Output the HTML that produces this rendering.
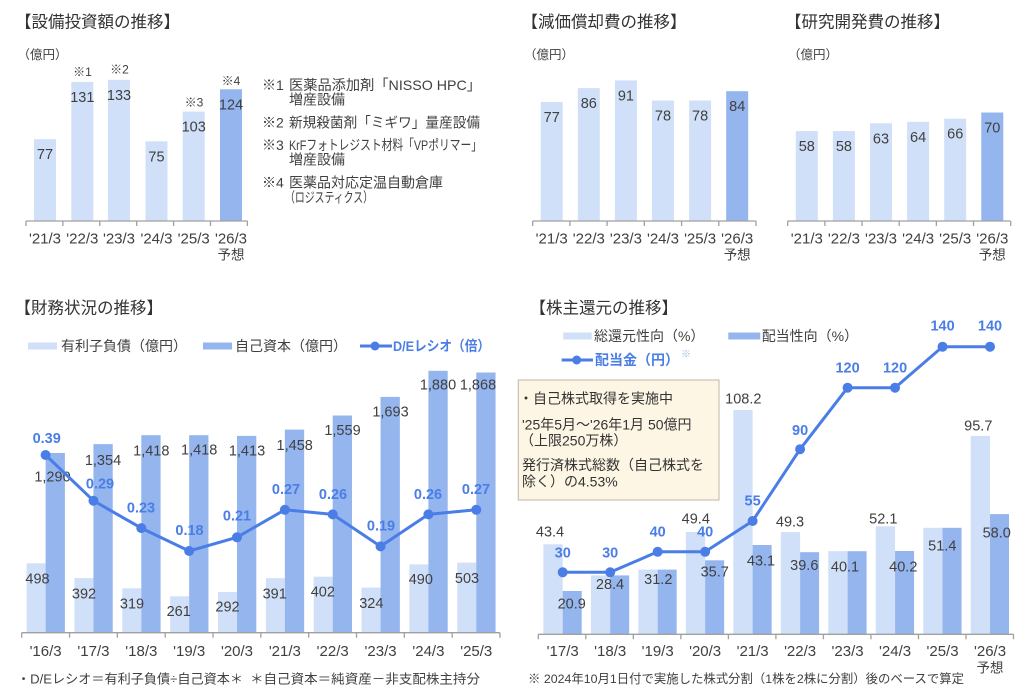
<!DOCTYPE html>
<html><head><meta charset="utf-8">
<style>
html,body{margin:0;padding:0;background:#fff;}
svg{display:block;}
text{font-family:"Liberation Sans","Noto Sans CJK JP",sans-serif;fill:#404040;dominant-baseline:central;}
.t{font-size:16.5px;fill:#333;}
.u{font-size:12.5px;}
.v{font-size:14.5px;text-anchor:middle;}
.x{font-size:15px;text-anchor:middle;}
.y{font-size:13.5px;text-anchor:middle;}
.n{font-size:14px;}
.b{font-size:14.5px;font-weight:bold;fill:#4a7ee6;text-anchor:middle;}
.lg{font-size:14px;}
.L{fill:#d0e0f8;}
.D{fill:#95b5ef;}
.ax{stroke:#a0a0a0;stroke-width:1.3;fill:none;}
</style></head>
<body>
<svg width="1024" height="689" viewBox="0 0 1024 689" xmlns="http://www.w3.org/2000/svg">
<rect width="1024" height="689" fill="#fff"/>

<!-- ===== Top-left: 設備投資額 ===== -->
<text class="t" x="15" y="22.7">【設備投資額の推移】</text>
<text class="u" x="17.5" y="55">（億円）</text>
<rect class="L" x="34" y="139.2" width="22" height="81.8"/>
<rect class="L" x="71.3" y="81.9" width="22" height="139.1"/>
<rect class="L" x="108" y="79.8" width="22" height="141.2"/>
<rect class="L" x="145.5" y="141.3" width="22" height="79.7"/>
<rect class="L" x="182.7" y="111.6" width="22" height="109.4"/>
<rect class="D" x="220" y="89.3" width="22" height="131.7"/>
<text class="v" x="45" y="155.2">77</text>
<text class="v" x="82.3" y="97.9">131</text>
<text class="v" x="119" y="95.8">133</text>
<text class="v" x="156.5" y="157.3">75</text>
<text class="v" x="193.7" y="127.6">103</text>
<text class="v" x="231" y="105.3">124</text>
<text class="v" style="font-size:12px" x="82.5" y="72">※1</text>
<text class="v" style="font-size:12px" x="119.5" y="69.3">※2</text>
<text class="v" style="font-size:12px" x="194" y="102.7">※3</text>
<text class="v" style="font-size:12px" x="231" y="81">※4</text>
<path class="ax" d="M26 221H247.4M26 221v5M62.9 221v5M99.8 221v5M136.7 221v5M173.6 221v5M210.5 221v5M247.4 221v5"/>
<text class="x" x="45" y="239">'21/3</text>
<text class="x" x="82.3" y="239">'22/3</text>
<text class="x" x="119" y="239">'23/3</text>
<text class="x" x="156.5" y="239">'24/3</text>
<text class="x" x="193.7" y="239">'25/3</text>
<text class="x" x="231" y="239">'26/3</text>
<text class="y" x="231" y="255">予想</text>

<!-- footnotes -->
<text class="n" x="262" y="85">※1</text>
<text class="n" x="289" y="85" textLength="192" lengthAdjust="spacingAndGlyphs">医薬品添加剤「NISSO HPC」</text>
<text class="n" x="289" y="99.3">増産設備</text>
<text class="n" x="262" y="122.7">※2</text>
<text class="n" x="289" y="122.7" textLength="191" lengthAdjust="spacingAndGlyphs">新規殺菌剤「ミギワ」量産設備</text>
<text class="n" x="262" y="145">※3</text>
<text class="n" x="289" y="145" textLength="193" lengthAdjust="spacingAndGlyphs">KrFフォトレジスト材料「VPポリマー」</text>
<text class="n" x="289" y="159.3">増産設備</text>
<text class="n" x="262" y="182.7">※4</text>
<text class="n" x="289" y="182.7">医薬品対応定温自動倉庫</text>
<text class="n" x="285" y="197.3" textLength="88" lengthAdjust="spacingAndGlyphs">（ロジスティクス）</text>

<!-- ===== Top-middle: 減価償却費 ===== -->
<text class="t" x="521.5" y="22.7">【減価償却費の推移】</text>
<text class="u" x="524" y="55">（億円）</text>
<rect class="L" x="540.7" y="102" width="22" height="119"/>
<rect class="L" x="577.8" y="88.1" width="22" height="132.9"/>
<rect class="L" x="614.9" y="80.4" width="22" height="140.6"/>
<rect class="L" x="652" y="100.5" width="22" height="120.5"/>
<rect class="L" x="689.1" y="100.5" width="22" height="120.5"/>
<rect class="D" x="726.2" y="91.2" width="22" height="129.8"/>
<text class="v" x="551.7" y="118">77</text>
<text class="v" x="588.8" y="104.1">86</text>
<text class="v" x="625.9" y="96.4">91</text>
<text class="v" x="663" y="116.5">78</text>
<text class="v" x="700.1" y="116.5">78</text>
<text class="v" x="737.2" y="107.2">84</text>
<path class="ax" d="M532.7 221H756M532.7 221v5M569.9 221v5M607.1 221v5M644.3 221v5M681.6 221v5M718.8 221v5M756 221v5"/>
<text class="x" x="551.7" y="239">'21/3</text>
<text class="x" x="588.8" y="239">'22/3</text>
<text class="x" x="625.9" y="239">'23/3</text>
<text class="x" x="663" y="239">'24/3</text>
<text class="x" x="700.1" y="239">'25/3</text>
<text class="x" x="737.2" y="239">'26/3</text>
<text class="y" x="737.2" y="255">予想</text>

<!-- ===== Top-right: 研究開発費 ===== -->
<text class="t" x="785" y="22.7">【研究開発費の推移】</text>
<text class="u" x="788" y="55">（億円）</text>
<rect class="L" x="795.8" y="131.1" width="22" height="89.9"/>
<rect class="L" x="832.9" y="131.1" width="22" height="89.9"/>
<rect class="L" x="870" y="123.3" width="22" height="97.7"/>
<rect class="L" x="907.1" y="121.8" width="22" height="99.2"/>
<rect class="L" x="944.2" y="118.7" width="22" height="102.3"/>
<rect class="D" x="981.3" y="112.5" width="22" height="108.5"/>
<text class="v" x="806.8" y="147.1">58</text>
<text class="v" x="843.9" y="147.1">58</text>
<text class="v" x="881" y="139.3">63</text>
<text class="v" x="918.1" y="137.8">64</text>
<text class="v" x="955.2" y="134.7">66</text>
<text class="v" x="992.3" y="128.5">70</text>
<path class="ax" d="M787.7 221H1010.7M787.7 221v5M824.9 221v5M862 221v5M899.2 221v5M936.4 221v5M973.5 221v5M1010.7 221v5"/>
<text class="x" x="806.8" y="239">'21/3</text>
<text class="x" x="843.9" y="239">'22/3</text>
<text class="x" x="881" y="239">'23/3</text>
<text class="x" x="918.1" y="239">'24/3</text>
<text class="x" x="955.2" y="239">'25/3</text>
<text class="x" x="992.3" y="239">'26/3</text>
<text class="y" x="992.3" y="255">予想</text>

<!-- ===== Bottom-left: 財務状況 ===== -->
<text class="t" x="14.5" y="308.3">【財務状況の推移】</text>
<rect class="L" x="28" y="342.5" width="29" height="7"/>
<text class="lg" x="61" y="346">有利子負債（億円）</text>
<rect class="D" x="203" y="342.5" width="29" height="7"/>
<text class="lg" x="235" y="346">自己資本（億円）</text>
<line x1="360" y1="346" x2="392" y2="346" stroke="#4a7ee6" stroke-width="3"/>
<circle cx="375" cy="346" r="4.5" fill="#4a7ee6"/>
<text class="lg" x="393" y="346" style="font-weight:bold;fill:#4a7ee6" textLength="97" lengthAdjust="spacingAndGlyphs">D/Eレシオ（倍）</text>

<rect class="L" x="26.6" y="563.3" width="19" height="69.4"/>
<rect class="D" x="45.6" y="453" width="19.3" height="179.7"/>
<rect class="L" x="74.45" y="578.1" width="19" height="54.6"/>
<rect class="D" x="93.45" y="444.1" width="19.3" height="188.6"/>
<rect class="L" x="122.3" y="588.3" width="19" height="44.4"/>
<rect class="D" x="141.3" y="435.2" width="19.3" height="197.5"/>
<rect class="L" x="170.15" y="596.3" width="19" height="36.4"/>
<rect class="D" x="189.15" y="435.2" width="19.3" height="197.5"/>
<rect class="L" x="218" y="592" width="19" height="40.7"/>
<rect class="D" x="237" y="435.9" width="19.3" height="196.8"/>
<rect class="L" x="265.85" y="578.2" width="19" height="54.5"/>
<rect class="D" x="284.85" y="429.6" width="19.3" height="203.1"/>
<rect class="L" x="313.7" y="576.7" width="19" height="56"/>
<rect class="D" x="332.7" y="415.5" width="19.3" height="217.2"/>
<rect class="L" x="361.55" y="587.6" width="19" height="45.1"/>
<rect class="D" x="380.55" y="396.9" width="19.3" height="235.8"/>
<rect class="L" x="409.4" y="564.4" width="19" height="68.3"/>
<rect class="D" x="428.4" y="370.8" width="19.3" height="261.9"/>
<rect class="L" x="457.25" y="562.6" width="19" height="70.1"/>
<rect class="D" x="476.25" y="372.5" width="19.3" height="260.2"/>

<text class="v" x="37.5" y="579.3">498</text>
<text class="v" x="84" y="594.3">392</text>
<text class="v" x="132" y="604.3">319</text>
<text class="v" x="178.7" y="612">261</text>
<text class="v" x="227.5" y="607.3">292</text>
<text class="v" x="274.7" y="594.3">391</text>
<text class="v" x="322.8" y="592.3">402</text>
<text class="v" x="371.3" y="604">324</text>
<text class="v" x="420.8" y="580">490</text>
<text class="v" x="467" y="579">503</text>

<text class="v" x="52.5" y="477.7">1,290</text>
<text class="v" x="103" y="461">1,354</text>
<text class="v" x="151.3" y="451.7">1,418</text>
<text class="v" x="199.2" y="450.7">1,418</text>
<text class="v" x="247" y="451.7">1,413</text>
<text class="v" x="294.7" y="446">1,458</text>
<text class="v" x="342.5" y="431">1,559</text>
<text class="v" x="390.5" y="412.7">1,693</text>
<text class="v" x="438" y="385.7">1,880</text>
<text class="v" x="478" y="385.7">1,868</text>

<polyline points="45.6,455 93.45,500.7 141.3,528.1 189.15,551 237,537.3 284.85,509.8 332.7,514.4 380.55,546.4 428.4,514.4 476.25,509.8" fill="none" stroke="#4a7ee6" stroke-width="3" stroke-linejoin="round"/>
<g fill="#4a7ee6">
<circle cx="45.6" cy="455" r="5"/><circle cx="93.45" cy="500.7" r="5"/><circle cx="141.3" cy="528.1" r="5"/><circle cx="189.15" cy="551" r="5"/><circle cx="237" cy="537.3" r="5"/><circle cx="284.85" cy="509.8" r="5"/><circle cx="332.7" cy="514.4" r="5"/><circle cx="380.55" cy="546.4" r="5"/><circle cx="428.4" cy="514.4" r="5"/><circle cx="476.25" cy="509.8" r="5"/>
</g>
<text class="b" x="46.7" y="439">0.39</text>
<text class="b" x="100" y="484.3">0.29</text>
<text class="b" x="141" y="508.3">0.23</text>
<text class="b" x="189.5" y="531">0.18</text>
<text class="b" x="237" y="516.7">0.21</text>
<text class="b" x="286" y="490">0.27</text>
<text class="b" x="333" y="495">0.26</text>
<text class="b" x="381" y="526.7">0.19</text>
<text class="b" x="428" y="495">0.26</text>
<text class="b" x="476" y="490">0.27</text>

<path class="ax" d="M21.7 632.7H500M21.7 632.7v5M69.53 632.7v5M117.36 632.7v5M165.19 632.7v5M213.02 632.7v5M260.85 632.7v5M308.68 632.7v5M356.51 632.7v5M404.34 632.7v5M452.17 632.7v5M500 632.7v5"/>
<text class="x" x="45.6" y="651.7">'16/3</text>
<text class="x" x="93.45" y="651.7">'17/3</text>
<text class="x" x="141.3" y="651.7">'18/3</text>
<text class="x" x="189.15" y="651.7">'19/3</text>
<text class="x" x="237" y="651.7">'20/3</text>
<text class="x" x="284.85" y="651.7">'21/3</text>
<text class="x" x="332.7" y="651.7">'22/3</text>
<text class="x" x="380.55" y="651.7">'23/3</text>
<text class="x" x="428.4" y="651.7">'24/3</text>
<text class="x" x="476.25" y="651.7">'25/3</text>
<text x="17" y="679" style="font-size:13px" textLength="226" lengthAdjust="spacingAndGlyphs">・D/Eレシオ＝有利子負債÷自己資本＊</text>
<text x="250" y="679" style="font-size:13px" textLength="230" lengthAdjust="spacingAndGlyphs">＊自己資本＝純資産－非支配株主持分</text>

<!-- ===== Bottom-right: 株主還元 ===== -->
<text class="t" x="529.5" y="308.3">【株主還元の推移】</text>
<rect class="L" x="563.3" y="332.5" width="28.4" height="7"/>
<text class="lg" x="594" y="336">総還元性向（%）</text>
<rect class="D" x="728.3" y="332.5" width="32" height="7"/>
<text class="lg" x="761.7" y="336">配当性向（%）</text>
<line x1="561.7" y1="360" x2="593" y2="360" stroke="#4a7ee6" stroke-width="3"/>
<circle cx="576.7" cy="360" r="4.5" fill="#4a7ee6"/>
<text class="lg" x="595" y="360" style="font-weight:bold;fill:#4a7ee6">配当金（円）</text>
<text x="681" y="355" style="font-size:10px;fill:#9ab8ef">※</text>

<rect x="518.3" y="380" width="200.7" height="120" fill="#fdf6e4" stroke="#bfb7a8" stroke-width="1"/>
<text class="n" x="519" y="398.3" style="fill:#333">・自己株式取得を実施中</text>
<text class="n" x="522" y="424.3" style="fill:#333">'25年5月～'26年1月 50億円</text>
<text class="n" x="520" y="440.7" style="fill:#333">（上限250万株）</text>
<text class="n" x="522" y="465" style="fill:#333">発行済株式総数（自己株式を</text>
<text class="n" x="522" y="481.7" style="fill:#333">除く）の4.53%</text>

<rect class="L" x="543.4" y="544.3" width="19.3" height="90"/>
<rect class="D" x="562.7" y="591" width="19" height="43.3"/>
<rect class="L" x="590.88" y="575.4" width="19.3" height="58.9"/>
<rect class="D" x="610.18" y="575.4" width="19" height="58.9"/>
<rect class="L" x="638.36" y="569.6" width="19.3" height="64.7"/>
<rect class="D" x="657.66" y="569.6" width="19" height="64.7"/>
<rect class="L" x="685.84" y="531.9" width="19.3" height="102.4"/>
<rect class="D" x="705.14" y="560.3" width="19" height="74"/>
<rect class="L" x="733.32" y="410" width="19.3" height="224.3"/>
<rect class="D" x="752.62" y="545" width="19" height="89.3"/>
<rect class="L" x="780.8" y="532.1" width="19.3" height="102.2"/>
<rect class="D" x="800.1" y="552.2" width="19" height="82.1"/>
<rect class="L" x="828.28" y="551.2" width="19.3" height="83.1"/>
<rect class="D" x="847.58" y="551.2" width="19" height="83.1"/>
<rect class="L" x="875.76" y="526.3" width="19.3" height="108"/>
<rect class="D" x="895.06" y="551" width="19" height="83.3"/>
<rect class="L" x="923.24" y="527.8" width="19.3" height="106.5"/>
<rect class="D" x="942.54" y="527.8" width="19" height="106.5"/>
<rect class="L" x="970.72" y="435.9" width="19.3" height="198.4"/>
<rect class="D" x="990.02" y="514.1" width="19" height="120.2"/>

<text class="v" x="550" y="532.3">43.4</text>
<text class="v" x="571.7" y="604.3">20.9</text>
<text class="v" x="610" y="585">28.4</text>
<text class="v" x="658.3" y="580">31.2</text>
<text class="v" x="695.8" y="519.3">49.4</text>
<text class="v" x="714.7" y="572.7">35.7</text>
<text class="v" x="743.3" y="399.3">108.2</text>
<text class="v" x="761" y="561.7">43.1</text>
<text class="v" x="790" y="522.3">49.3</text>
<text class="v" x="804.3" y="566">39.6</text>
<text class="v" x="845" y="567.7">40.1</text>
<text class="v" x="883.3" y="519.3">52.1</text>
<text class="v" x="903.3" y="567.7">40.2</text>
<text class="v" x="942.3" y="546.7">51.4</text>
<text class="v" x="978.3" y="426.7">95.7</text>
<text class="v" x="996.7" y="533.3">58.0</text>

<polyline points="562.7,572.3 610.18,572.3 657.66,551.8 705.14,551.8 752.62,521 800.1,449.2 847.58,387.7 895.06,387.7 942.54,346.7 990.02,346.7" fill="none" stroke="#4a7ee6" stroke-width="3" stroke-linejoin="round"/>
<g fill="#4a7ee6">
<circle cx="562.7" cy="572.3" r="5"/><circle cx="610.18" cy="572.3" r="5"/><circle cx="657.66" cy="551.8" r="5"/><circle cx="705.14" cy="551.8" r="5"/><circle cx="752.62" cy="521" r="5"/><circle cx="800.1" cy="449.2" r="5"/><circle cx="847.58" cy="387.7" r="5"/><circle cx="895.06" cy="387.7" r="5"/><circle cx="942.54" cy="346.7" r="5"/><circle cx="990.02" cy="346.7" r="5"/>
</g>
<text class="b" x="562.7" y="553.3">30</text>
<text class="b" x="610.18" y="553.3">30</text>
<text class="b" x="657.66" y="532.3">40</text>
<text class="b" x="705.14" y="532.3">40</text>
<text class="b" x="752.62" y="501.7">55</text>
<text class="b" x="800.1" y="431">90</text>
<text class="b" x="847.58" y="368.3">120</text>
<text class="b" x="895.06" y="368.3">120</text>
<text class="b" x="942.54" y="326.7">140</text>
<text class="b" x="990.02" y="326.7">140</text>

<path class="ax" d="M538.3 634.3H1013.5M538.3 634.3v5M585.82 634.3v5M633.34 634.3v5M680.86 634.3v5M728.38 634.3v5M775.9 634.3v5M823.42 634.3v5M870.94 634.3v5M918.46 634.3v5M965.98 634.3v5M1013.5 634.3v5"/>
<text class="x" x="562.7" y="651.7">'17/3</text>
<text class="x" x="610.18" y="651.7">'18/3</text>
<text class="x" x="657.66" y="651.7">'19/3</text>
<text class="x" x="705.14" y="651.7">'20/3</text>
<text class="x" x="752.62" y="651.7">'21/3</text>
<text class="x" x="800.1" y="651.7">'22/3</text>
<text class="x" x="847.58" y="651.7">'23/3</text>
<text class="x" x="895.06" y="651.7">'24/3</text>
<text class="x" x="942.54" y="651.7">'25/3</text>
<text class="x" x="990.02" y="651.7">'26/3</text>
<text class="y" x="990.02" y="668">予想</text>
<text x="528" y="679" style="font-size:12.4px" textLength="436" lengthAdjust="spacingAndGlyphs">※ 2024年10月1日付で実施した株式分割（1株を2株に分割）後のベースで算定</text>
</svg>
</body></html>
